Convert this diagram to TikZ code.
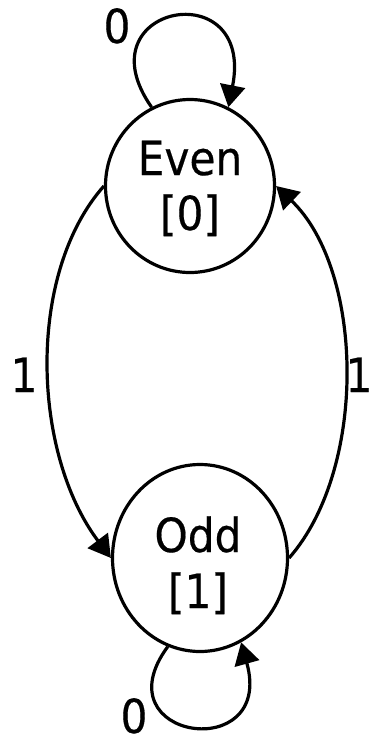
\documentclass[tikz,border=0pt]{standalone}
\usepackage{fontspec}
\setmainfont{DejaVu Sans}[FakeStretch=0.9,FakeBold=0.4]
\usetikzlibrary{arrows.meta,shapes.geometric}
\begin{document}
\begin{tikzpicture}[x=1pt,y=-1pt,
  state/.style={ellipse,draw,line width=3.2pt,inner sep=0pt},
  lbl/.style={anchor=base,inner sep=0pt,font=\fontsize{47}{55}\selectfont},
  edge/.style={line width=3.2pt,-{Triangle[length=22pt,width=25pt]}}]
\useasboundingbox (0,0) rectangle (369,740);
\fill[white] (0,0) rectangle (369,740);
% states
\node[state,minimum width=169pt,minimum height=173pt] (even) at (190,186) {};
\node[state,minimum width=175pt,minimum height=187pt] (odd) at (200,558) {};
\node[lbl] (evenname) at (190,175) {Even};
\node[lbl] (evenval) at (190,230) {[0]};
\node[lbl] (oddname) at (198,552) {Odd};
\node[lbl] (oddval) at (198,608) {[1]};
% transitions
\draw[edge] (even.180) .. controls (26,274) and (32,453) .. (odd.180);
\draw[edge] (odd.0) .. controls (368,468) and (364,270) .. (even.0);
\draw[edge] (even.116) .. controls (80,5) and (255,-28) .. (even.64);
\draw[edge] (odd.250) .. controls (99,740) and (275,765) .. (odd.296);
% edge labels
\node[lbl] (l1) at (24,392) {1};
\node[lbl] (r1) at (359,392) {1};
\node[lbl] (t0) at (117,43) {0};
\node[lbl] (b0) at (134,733) {0};
\end{tikzpicture}
\end{document}
